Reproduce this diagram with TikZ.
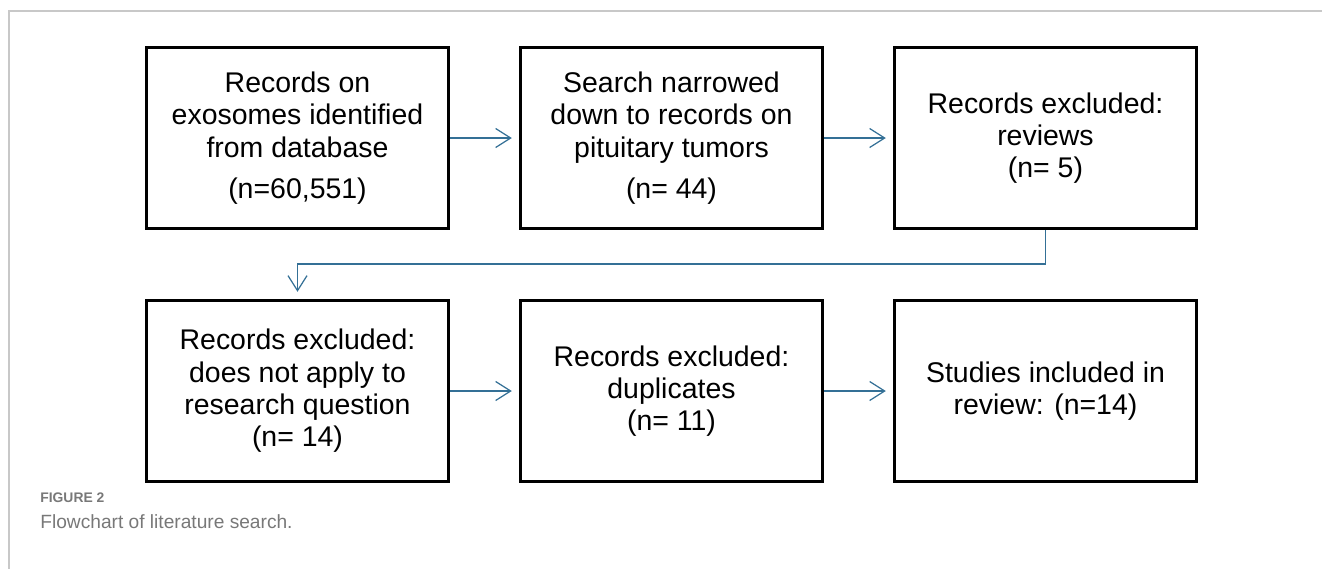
\documentclass[tikz,border=0pt]{standalone}
\usepackage{fontspec}
\setmainfont{Liberation Sans}
\usetikzlibrary{arrows.meta}
\definecolor{flowblue}{RGB}{52,112,150}
\definecolor{framegray}{RGB}{200,200,200}
\definecolor{capgray}{RGB}{120,120,120}
\tikzset{
	recbox/.style={draw=black, line width=1.7pt, minimum width=6.05cm, minimum height=3.63cm, align=center, font=\fontsize{16.2}{18.4}\selectfont, inner sep=0pt},
	flowarrow/.style={draw=flowblue, line width=0.7pt, -{Straight Barb[length=0.3cm, width=0.38cm, line width=0.7pt]}, shorten >=0.14cm}
}
\begin{document}
\begin{tikzpicture}[x=0.02cm, y=-0.02cm]
	%%%%% START %%%%%
	\useasboundingbox (0, 0) rectangle (1322, 569);
	
	% frame
	\draw[framegray, line width=0.8pt] (1322, 11) -- (9, 11) -- (9, 569);
	
	% first row
	\node[recbox] (records) at (297.5, 138) {Records on\\exosomes identified\\from database\\[0.17cm](n=60,551)};
	\node[recbox] (narrowed) at (671.5, 138) {Search narrowed\\down to records on\\pituitary tumors\\[0.17cm](n= 44)};
	\node[recbox] (reviews) at (1045.5, 138) {Records excluded:\\reviews\\(n= 5)};
	
	% second row
	\node[recbox] (question) at (297.5, 391) {Records excluded:\\does not apply to\\research question\\(n= 14)};
	\node[recbox] (duplicates) at (671.5, 391) {Records excluded:\\duplicates\\(n= 11)};
	\node[recbox] (included) at (1045.5, 391) {Studies included in\\review: (n=14)};
	
	% connectors
	\draw[flowarrow] (records.east) -- (narrowed.west);
	\draw[flowarrow] (narrowed.east) -- (reviews.west);
	\coordinate (turn) at (1045.5, 264);
	\draw[flowarrow] (reviews.south) -- (turn) -| (question.north);
	\draw[flowarrow] (question.east) -- (duplicates.west);
	\draw[flowarrow] (duplicates.east) -- (included.west);
	
	% caption
	\node[anchor=base west, inner sep=0pt, text=capgray, font=\bfseries\fontsize{7.9}{9}\selectfont] (figlabel) at (40, 502) {FIGURE 2};
	\node[anchor=base west, inner sep=0pt, text=capgray, font=\fontsize{10.9}{12}\selectfont] (figtitle) at (40, 528) {Flowchart of literature search.};
	%%%%% END %%%%%
\end{tikzpicture}
\end{document}
